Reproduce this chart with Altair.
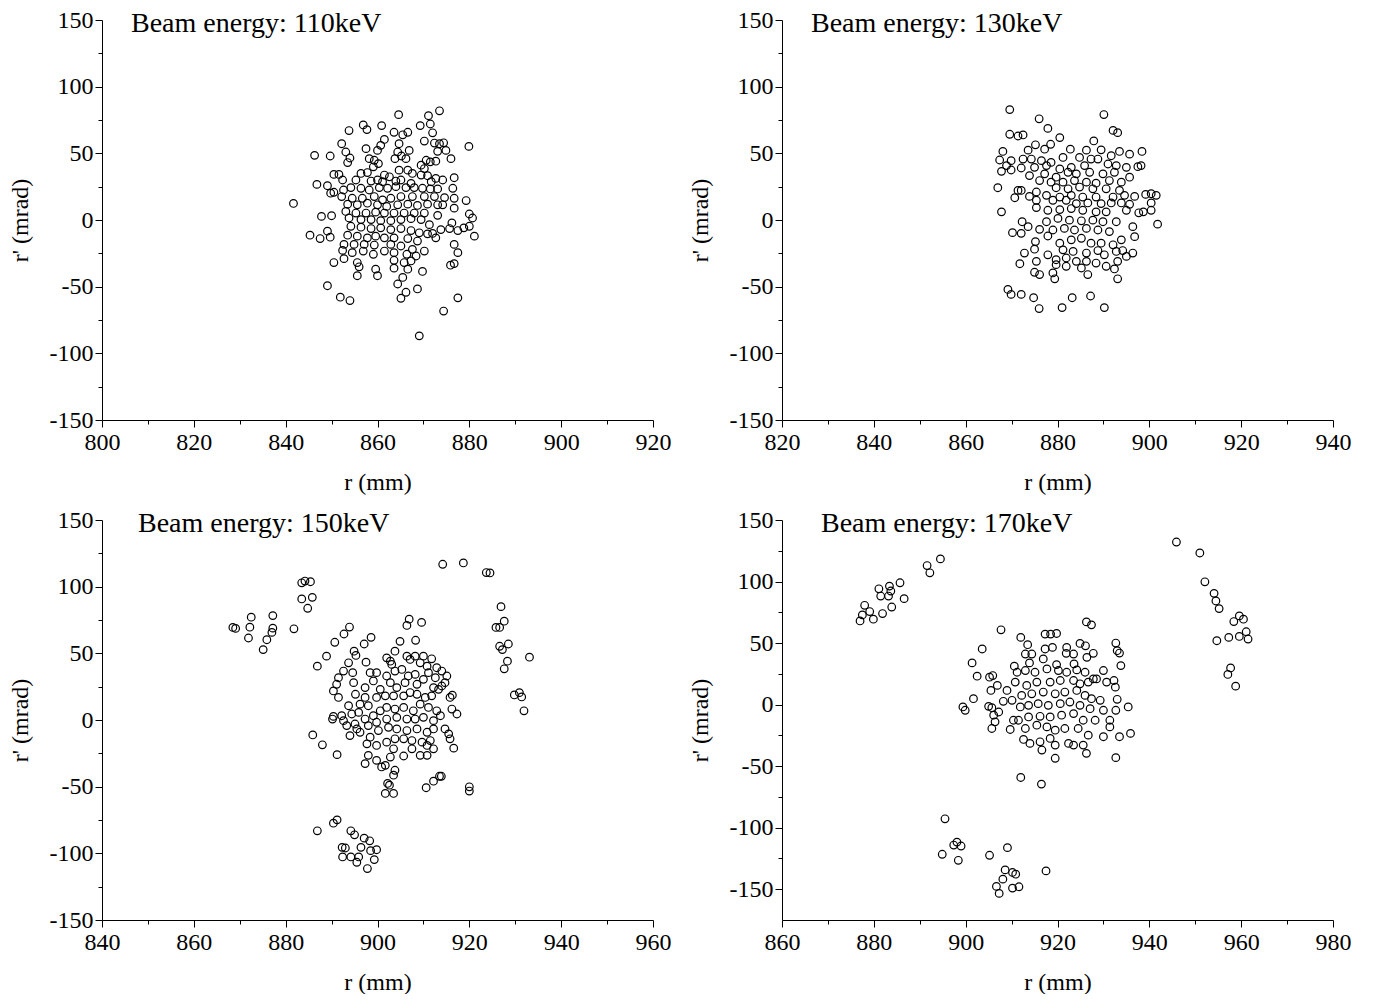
import altair as alt
import pandas as pd

FONT = "Liberation Serif"

# ---------------- Beam energy 110 keV ----------------
r_110 = [873.5, 864.6, 871.1, 871.5, 856.9, 860.9, 857.7, 869.3, 853.8, 863.6, 866.6, 865.5, 872.0, 861.5,
         852.2, 870.2, 872.4, 873.5, 874.4, 879.9, 860.7, 864.7, 860.0, 857.5, 853.1, 864.4, 866.9, 873.1,
         874.9, 846.3, 849.7, 854.0, 865.2, 863.8, 866.2, 876.0, 853.5, 859.3, 858.2, 860.2, 870.6, 871.5,
         872.7, 869.5, 859.1, 870.2, 864.7, 866.6, 850.5, 851.6, 856.4, 857.8, 861.5, 862.6, 867.6, 869.5,
         870.9, 872.7, 876.7, 852.4, 855.3, 858.6, 860.0, 861.1, 864.0, 865.1, 867.3, 871.7, 874.2, 846.8,
         849.1, 849.8, 852.6, 854.2, 856.4, 858.2, 860.4, 862.2, 864.0, 866.2, 868.0, 869.8, 871.5, 873.1,
         876.4, 876.7, 850.5, 852.2, 854.5, 856.7, 859.3, 861.1, 862.9, 865.1, 867.6, 870.2, 872.4, 874.6,
         879.3, 841.7, 853.5, 855.6, 857.8, 860.0, 862.0, 864.4, 866.6, 868.7, 870.9, 873.1, 874.2, 853.1,
         855.3, 857.5, 859.6, 861.5, 863.6, 865.8, 868.0, 870.2, 873.1, 876.7, 880.0, 880.7, 847.8, 850.0,
         853.8, 856.4, 858.6, 860.7, 862.9, 865.1, 867.3, 869.5, 871.3, 875.7, 876.2, 878.8, 880.0, 881.1,
         854.2, 856.4, 858.6, 860.7, 862.9, 865.1, 867.3, 869.1, 870.9, 872.0, 873.8, 877.5, 845.3, 847.5,
         849.7, 849.1, 853.5, 855.6, 857.8, 859.6, 861.5, 863.6, 866.6, 868.7, 872.7, 852.7, 854.9, 857.1,
         859.3, 862.9, 865.1, 867.6, 870.2, 876.7, 877.5, 852.4, 854.5, 856.9, 859.1, 861.5, 863.6, 866.4,
         868.4, 850.5, 852.7, 855.6, 856.0, 863.6, 865.8, 867.3, 869.8, 875.9, 876.7, 855.6, 859.6, 860.0,
         863.6, 866.6, 865.5, 864.4, 849.1, 866.2, 865.1, 868.7, 851.9, 854.0, 877.5, 874.4, 869.1]
rp_110 = [81.9, 79.0, 78.2, 72.0, 71.3, 70.8, 67.8, 70.8, 67.1, 65.8, 65.8, 63.9, 65.4, 60.4,
          57.2, 59.2, 57.7, 57.2, 57.9, 55.2, 56.0, 57.2, 52.2, 53.5, 51.0, 51.0, 52.2, 51.5,
          52.2, 48.5, 48.0, 46.5, 48.0, 46.0, 46.0, 46.0, 43.1, 44.8, 46.0, 42.3, 44.8, 43.6,
          44.1, 41.1, 39.9, 38.6, 37.4, 37.4, 34.2, 34.2, 34.9, 35.6, 33.7, 32.4, 34.9, 33.7,
          33.2, 31.2, 31.7, 30.0, 30.0, 29.2, 30.0, 28.7, 29.2, 30.0, 27.5, 28.7, 30.0, 26.7,
          25.7, 20.1, 22.5, 24.3, 23.8, 22.5, 24.3, 23.8, 25.0, 24.3, 24.3, 23.8, 23.3, 23.3,
          23.8, 16.3, 20.8, 17.6, 16.3, 16.3, 17.6, 15.1, 16.3, 17.6, 17.6, 17.6, 17.6, 16.8,
          14.6, 12.4, 11.9, 11.4, 12.6, 11.4, 10.2, 11.4, 11.9, 10.9, 11.9, 11.4, 11.4, 6.4,
          5.2, 5.2, 5.9, 5.2, 5.2, 5.2, 5.2, 5.2, 3.5, 8.9, 4.5, 1.5, 2.7, 3.2,
          1.5, 0.3, 0.3, -0.5, -0.5, 0.3, 1.0, 0.3, -3.5, -6.4, -2.2, -5.9, -4.7, -12.1,
          -4.7, -5.4, -6.4, -5.9, -7.2, -6.4, -7.9, -9.6, -10.4, -10.1, -7.2, -7.9, -11.4, -13.9,
          -12.9, -8.4, -11.4, -12.1, -13.4, -12.1, -13.4, -13.4, -13.9, -15.8, -13.4, -18.3, -18.3, -18.3,
          -18.8, -18.3, -19.5, -22.0, -23.3, -18.3, -24.5, -22.8, -24.5, -23.3, -25.7, -23.3, -24.5, -25.7,
          -27.0, -31.9, -29.0, -31.9, -35.1, -30.2, -31.9, -30.7, -38.6, -33.9, -32.7, -41.8, -36.9, -41.8,
          -36.1, -36.9, -43.1, -48.0, -49.3, -54.2, -58.7, -51.7, -57.9, -60.4, -58.4, -68.3, -86.9]

# ---------------- Beam energy 130 keV ----------------
r_130 = [869.6, 890.1, 876.0, 877.9, 892.1, 893.1, 869.6, 871.4, 872.5, 880.5, 887.9, 878.5, 875.2, 873.6,
         868.1, 877.2, 882.8, 886.3, 889.5, 893.5, 895.7, 898.4, 867.4, 869.9, 872.5, 874.3, 876.5, 878.6,
         881.2, 884.8, 887.3, 888.8, 891.7, 868.9, 872.1, 875.0, 877.6, 880.5, 883.0, 885.9, 891.0, 892.8,
         895.0, 897.5, 898.2, 867.8, 869.9, 873.9, 877.2, 879.7, 882.3, 884.1, 887.0, 889.9, 892.4, 895.7,
         876.1, 878.6, 881.2, 883.7, 886.3, 888.4, 891.3, 893.9, 867.0, 871.4, 872.1, 875.4, 879.7, 882.3,
         884.8, 887.7, 890.6, 893.5, 873.9, 877.6, 880.5, 883.0, 885.5, 888.4, 892.1, 894.6, 896.8, 899.2,
         900.4, 901.5, 870.7, 875.4, 879.0, 881.9, 884.1, 886.6, 889.5, 891.7, 893.9, 895.7, 900.4, 867.8,
         875.4, 877.9, 880.5, 883.0, 885.5, 888.4, 890.6, 895.0, 897.7, 898.7, 900.4, 877.6, 880.1, 882.6,
         885.2, 887.7, 889.9, 892.8, 872.3, 873.6, 872.1, 870.2, 876.1, 879.0, 881.5, 883.7, 886.3, 888.8,
         891.3, 896.4, 901.8, 896.8, 875.2, 877.9, 880.5, 883.0, 885.2, 887.3, 889.5, 892.1, 893.9, 875.0,
         872.8, 877.9, 881.2, 883.4, 886.3, 888.8, 890.2, 892.8, 894.2, 896.4, 895.0, 875.4, 879.7, 881.9,
         884.1, 886.3, 888.4, 890.6, 893.1, 871.8, 875.0, 876.1, 879.0, 879.7, 881.9, 885.2, 886.6, 892.4,
         893.1, 879.4, 869.2, 869.9, 872.1, 874.8, 883.2, 887.2, 876.0, 881.0, 890.2]
rp_130 = [82.8, 79.1, 75.9, 68.7, 67.2, 65.5, 64.3, 63.0, 63.8, 61.8, 59.3, 56.8, 56.4, 52.4,
          51.4, 53.1, 53.1, 52.4, 52.6, 51.4, 49.4, 51.4, 45.0, 44.5, 45.7, 45.7, 44.5, 43.2,
          46.9, 46.9, 45.7, 45.7, 48.2, 40.8, 39.0, 39.5, 40.8, 38.3, 39.5, 40.8, 42.0, 40.8,
          39.5, 40.0, 40.8, 36.5, 37.5, 33.3, 34.6, 32.1, 35.8, 34.6, 35.8, 34.6, 35.8, 32.1,
          29.6, 28.4, 28.4, 29.6, 28.4, 27.6, 29.6, 28.4, 24.2, 22.2, 22.2, 21.0, 24.2, 23.4,
          24.7, 23.4, 23.4, 22.2, 17.7, 18.5, 17.2, 18.5, 17.2, 17.2, 17.2, 18.5, 17.7, 19.2,
          19.7, 18.5, 16.7, 14.8, 14.8, 14.8, 12.3, 12.8, 12.3, 12.8, 12.8, 11.8, 12.8, 6.1,
          9.3, 7.3, 7.8, 8.6, 7.3, 6.1, 6.1, 7.3, 5.4, 6.1, 7.3, -1.3, 1.2, -0.1,
          -0.6, -0.1, -1.3, -1.3, -1.3, -5.0, -10.0, -9.5, -7.0, -7.5, -6.3, -7.5, -6.3, -7.5,
          -8.7, -5.0, -3.1, -12.5, -16.2, -12.0, -17.4, -14.9, -13.7, -17.4, -17.4, -18.6, -14.9, -21.9,
          -24.8, -26.1, -22.4, -23.6, -24.8, -22.9, -26.1, -23.6, -22.9, -24.8, -27.3, -31.0, -29.8, -28.5,
          -31.0, -31.0, -32.3, -34.7, -31.0, -32.8, -39.2, -40.9, -39.7, -33.5, -34.7, -36.0, -40.9, -36.7,
          -44.1, -44.1, -52.1, -55.8, -55.8, -58.3, -58.3, -57.0, -66.4, -65.7, -65.7]

# ---------------- Beam energy 150 keV ----------------
r_150 = [914.2, 918.7, 923.7, 883.5, 884.2, 885.4, 883.5, 885.8, 884.8, 881.8, 893.9, 892.7, 890.7, 898.6,
         897.1, 906.9, 906.4, 909.6, 904.9, 908.3,
         868.5, 869.1, 872.2, 872.5, 871.9, 877.2, 877.2, 877.0, 875.9, 875.1,
         886.9, 890.4, 891.2, 894.2, 895.0, 892.3, 893.0, 892.4, 894.2, 895.9, 895.5, 897.1, 898.3, 896.4,
         898.5, 899.8, 899.3, 897.8,
         924.5, 926.9, 927.6, 925.8, 926.6, 926.6, 927.2, 928.5, 927.6, 928.3, 933.1, 929.8, 930.9, 931.4,
         931.9,
         886.9, 888.9, 893.7, 894.9, 895.3, 897.5, 903.8, 902.0, 902.8, 903.1, 905.3, 906.4, 907.1, 908.2,
         910.0, 909.3, 911.8, 910.8, 912.9, 914.0, 915.1, 914.7, 914.0, 891.5, 892.6, 894.6, 891.1, 890.4,
         891.5, 894.8, 895.2, 897.3, 897.3, 898.4, 899.8, 899.1, 900.6, 902.0, 902.8, 903.8, 904.2, 906.0,
         906.7, 908.2, 908.6, 910.0, 911.1, 912.6, 912.2, 911.8, 913.3, 915.8, 916.3, 910.4, 908.6, 907.1,
         905.7, 903.5, 901.7, 899.8, 898.0, 896.2, 895.9, 893.7, 894.4, 892.2, 890.4, 890.2, 892.6, 893.3,
         895.1, 897.3, 899.1, 900.6, 902.0, 903.8, 905.7, 907.8, 909.3, 911.1, 912.9, 913.7, 916.2, 917.3,
         912.2, 910.0, 908.2, 906.4, 904.2, 902.0, 899.8, 898.0, 895.5, 894.0, 896.2, 898.4, 900.2, 902.4,
         904.2, 906.4, 908.6, 910.8, 912.2, 914.7, 915.5, 915.8, 916.6, 885.9, 888.0, 891.2, 897.7, 899.8,
         902.0, 903.8, 905.7, 907.5, 909.7, 911.5, 912.2, 910.8, 909.3, 907.5, 905.7, 903.5, 902.8, 898.0,
         897.3, 899.8, 900.9, 901.7, 903.5, 903.8, 910.8, 902.2, 902.6, 901.7, 903.5, 910.6, 912.2, 913.5,
         913.9, 920.0, 920.0]
rp_150 = [116.8, 117.8, 110.6, 102.9, 104.2, 103.7, 90.8, 92.0, 83.8, 68.4, 69.7, 64.5, 58.3, 62.0,
          57.0, 75.6, 70.9, 73.2, 59.0, 59.8,
          69.4, 68.7, 69.6, 77.1, 61.5, 68.9, 78.3, 65.7, 60.2, 52.8,
          -83.1, -77.4, -74.9, -83.1, -86.1, -95.5, -96.0, -102.7, -102.7, -102.7, -106.7, -88.6, -90.6, -95.5,
          -98.0, -97.3, -104.7, -111.4,
          110.3, 85.0, 74.1, 69.4, 69.4, 55.3, 52.8, 57.0, 38.4, 44.1, 47.1, 18.8, 20.5, 17.3,
          6.9,
          40.4, 47.9, 42.9, 51.6, 48.4, 43.4, 51.6, 46.6, 44.1, 41.7, 37.9, 47.9, 45.4, 47.9,
          47.9, 42.9, 45.9, 40.4, 39.2, 36.7, 33.0, 28.0, 25.5, 31.7, 36.7, 35.5, 26.8, 21.8,
          16.9, 28.0, 19.3, 24.3, 16.9, 35.5, 35.5, 29.3, 23.0, 33.0, 28.0, 36.7, 24.3, 28.0,
          33.0, 34.2, 26.8, 30.5, 35.5, 31.7, 24.3, 18.1, 23.0, 16.9, 18.6, 16.9, 19.3, 20.6,
          18.1, 18.1, 18.1, 16.9, 10.7, 11.9, 5.7, 10.7, 4.5, 3.2, 2.7, 0.7, -0.5, -4.2,
          -3.0, 0.7, 3.2, 6.9, 9.4, 8.2, 9.4, 6.9, 11.9, 9.4, 6.9, 3.2, 8.2, 4.5,
          -0.5, 2.0, 0.7, 0.7, 2.0, 0.7, -1.7, -4.2, -6.7, -11.7, -9.2, -12.9, -7.9, -5.5,
          -6.7, -7.9, -6.7, -9.2, -6.7, -6.7, -10.4, -14.1, -21.1, -11.2, -18.6, -26.0, -17.9, -19.1,
          -16.6, -14.1, -14.1, -15.4, -16.6, -15.4, -21.6, -19.1, -26.5, -21.6, -27.0, -21.6, -27.8, -26.5,
          -32.7, -30.3, -35.2, -34.0, -41.4, -37.7, -26.5, -47.6, -48.9, -55.1, -55.1, -50.8, -45.9, -42.2,
          -42.2, -50.1, -53.3]

# ---------------- Beam energy 170 keV ----------------
r_170 = [877.0, 877.5, 878.0, 879.1, 879.9, 881.9, 881.1, 881.5, 883.4, 883.2, 883.7, 883.9, 885.7, 886.6,
         891.6, 892.2, 894.5,
         945.9, 951.0, 952.1, 954.1, 954.5, 955.2, 954.7, 957.3, 958.4, 959.6, 960.5, 959.6, 961.1, 961.5,
         957.7, 957.1, 958.8,
         912.0, 916.5, 895.5, 898.1, 897.4, 899.0, 894.9, 898.4, 905.2, 909.1, 908.6, 910.2, 910.9, 908.1,
         906.7, 907.3, 910.2, 911.6, 917.5,
         932.7, 933.0, 933.5, 933.8, 932.3, 932.6, 933.0, 932.7, 933.5, 932.7, 935.4, 935.9,
         926.3, 927.4, 907.7, 912.0, 917.3, 918.5, 919.8, 903.6, 913.5, 913.0, 914.4, 917.3, 918.9, 922.0,
         924.9, 926.1, 927.8, 901.4, 910.6, 913.9, 916.9, 919.8, 921.9, 923.5, 923.6, 926.4, 902.5, 905.2,
         905.9, 911.2, 913.0, 915.1, 917.7, 920.2, 922.0, 924.2, 926.0, 927.8, 930.0, 906.9, 905.5, 909.0,
         910.8, 913.3, 915.5, 918.4, 920.6, 923.5, 924.9, 926.7, 928.5, 930.7, 901.7, 908.2, 910.1, 912.2,
         914.4, 916.9, 919.5, 921.6, 924.2, 926.0, 927.4, 929.3, 899.4, 899.9, 905.0, 905.7, 907.2, 906.1,
         911.9, 913.7, 915.8, 918.0, 920.6, 922.7, 924.9, 927.1, 930.0, 910.4, 911.5, 906.4, 913.7, 916.2,
         918.4, 920.9, 923.5, 925.6, 928.2, 931.4, 905.7, 909.7, 913.0, 915.5, 917.7, 919.5, 921.6, 924.5,
         926.7, 930.0, 931.4, 912.6, 914.0, 916.2, 918.4, 919.5, 922.4, 923.5, 925.6, 916.6, 919.5, 926.3]
rp_170 = [68.0, 72.9, 80.7, 75.6, 69.4, 74.0, 94.1, 88.2, 96.3, 88.2, 92.3, 79.3, 99.0, 86.1,
          113.0, 107.1, 118.4,
          132.1, 123.2, 99.8, 90.4, 84.2, 78.0, 51.9, 54.6, 67.5, 72.1, 69.4, 55.4, 59.2, 53.3,
          29.8, 24.5, 15.0,
          -59.2, -64.6, -92.8, -111.7, -114.1, -114.9, -121.6, -126.5, -122.4, -116.2, -134.3, -136.4, -137.8, -141.8,
          -147.7, -153.4, -149.1, -148.0, -135.1,
          50.0, 43.8, 41.9, 31.7, 19.6, 14.2, 4.3, -4.6, -26.1, -43.1, -1.9, -23.4,
          67.2, 64.8, 60.8, 54.6, 57.3, 57.3, 57.8, 45.2, 48.7, 41.1, 41.1, 45.2, 46.5, 46.5,
          49.7, 47.8, 41.7, 33.9, 31.2, 33.9, 37.1, 32.5, 41.7, 41.1, 33.1, 38.4, 23.1, 22.3,
          23.6, 26.3, 27.7, 26.3, 29.0, 27.7, 26.3, 28.2, 26.3, 20.9, 27.7, 15.6, 11.5, 11.5,
          18.3, 15.6, 18.3, 18.3, 19.6, 19.6, 16.9, 18.3, 20.9, 18.3, 4.8, 2.7, 3.5, 7.5,
          8.8, 10.2, 8.8, 10.2, 11.5, 7.5, 4.8, 3.5, -1.9, -4.6, -1.4, -2.5, -6.0, -8.6,
          -1.9, -0.6, 0.8, -0.6, 0.8, 2.1, -0.6, -3.3, -4.6, -12.7, -12.7, -14.0, -10.0, -9.5,
          -10.0, -8.6, -7.3, -12.7, -12.7, -12.7, -19.4, -20.2, -19.4, -16.7, -18.1, -20.8, -19.4, -19.4,
          -24.8, -26.1, -18.1, -28.3, -31.5, -30.2, -27.5, -32.9, -31.5, -32.9, -32.9, -36.9, -43.6, -39.6]

panels = [
    ("Beam energy: 110keV", r_110, rp_110, [800, 920], [-150, 150], 29),
    ("Beam energy: 130keV", r_130, rp_130, [820, 940], [-150, 150], 29),
    ("Beam energy: 150keV", r_150, rp_150, [840, 960], [-150, 150], 36),
    ("Beam energy: 170keV", r_170, rp_170, [860, 980], [-175, 150], 39),
]

major_y = [-150, -100, -50, 0, 50, 100, 150]
minor_y = [-125, -75, -25, 25, 75, 125]

common = dict(domainColor="black", domainWidth=1, tickColor="black", tickWidth=1,
              labelColor="black", titleColor="black", labelFont=FONT, titleFont=FONT,
              labelFontSize=24, titleFontSize=24, titleFontWeight="normal", grid=False,
              labelFlush=False, labelOverlap=False)


def make_panel(title, r, rp, xdom, ydom, tdx):
    df = pd.DataFrame({"r": r, "rp": rp})
    xs = alt.Scale(domain=xdom, nice=False, zero=False)
    ys = alt.Scale(domain=ydom, nice=False, zero=False)
    xmaj = list(range(xdom[0], xdom[1] + 1, 20))
    xmin = list(range(xdom[0] + 10, xdom[1], 20))
    pts = alt.Chart(df).mark_point(shape="circle", filled=False, size=58, strokeWidth=1.2,
                                   color="black", opacity=1).encode(
        x=alt.X("r:Q", scale=xs, axis=alt.Axis(orient="bottom", values=xmaj, tickSize=7, labelPadding=3,
                                              title="r (mm)", titlePadding=16,
                                              labelExpr="'' + datum.value", **common)),
        y=alt.Y("rp:Q", scale=ys, axis=alt.Axis(orient="left", values=major_y, tickSize=7, labelPadding=2,
                                               title="r' (mrad)", titlePadding=17,
                                               labelExpr="'' + datum.value", **common)),
    )
    minor = alt.Chart(df).mark_point(opacity=0, size=1).encode(
        x=alt.X("r:Q", scale=xs, axis=alt.Axis(orient="bottom", values=xmin, tickSize=4, labels=False,
                                              domain=False, title=None, grid=False,
                                              tickColor="black", tickWidth=1)),
        y=alt.Y("rp:Q", scale=ys, axis=alt.Axis(orient="left", values=minor_y, tickSize=4, labels=False,
                                               domain=False, title=None, grid=False,
                                               tickColor="black", tickWidth=1)),
    )
    label = alt.Chart(pd.DataFrame({"t": [title]})).mark_text(
        align="left", baseline="alphabetic", font=FONT, fontSize=28, color="black"
    ).encode(text="t:N", x=alt.value(tdx), y=alt.value(12))
    return alt.layer(pts, minor, label).resolve_axis(x="independent", y="independent").properties(
        width=551, height=400)


charts = [make_panel(*p) for p in panels]

chart = alt.concat(*charts, columns=2, spacing={"row": 100, "column": 129}, bounds="flush").properties(
    padding={"left": 0, "top": 0, "right": 5, "bottom": 0}, background="white"
).configure_view(strokeWidth=0)

chart.save("out.html", embed_options={"renderer": "svg", "actions": False})
